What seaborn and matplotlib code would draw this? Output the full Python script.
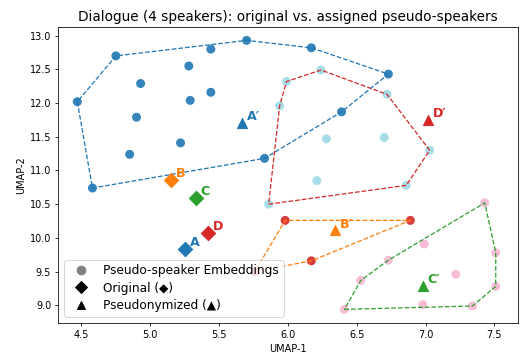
import numpy as np
import pandas as pd
import seaborn as sns
import matplotlib
import matplotlib.pyplot as plt
from matplotlib.lines import Line2D

# pseudo-speaker embeddings, one group per original speaker
a_x = [4.47, 4.75, 4.58, 4.93, 4.90, 4.85, 5.22, 5.28, 5.29, 5.44, 5.44, 5.70, 5.83, 6.17, 6.73, 6.39]
a_y = [12.02, 12.70, 10.74, 12.29, 11.79, 11.24, 11.41, 12.55, 12.04, 12.80, 12.16, 12.93, 11.18, 12.82, 12.43, 11.87]
b_x = [5.98, 6.89, 6.17, 5.76]
b_y = [10.26, 10.26, 9.66, 9.50]
c_x = [7.43, 6.99, 7.51, 6.73, 7.22, 6.53, 7.51, 6.98, 7.34, 6.41]
c_y = [10.52, 9.91, 9.78, 9.67, 9.46, 9.37, 9.28, 9.01, 8.99, 8.94]
d_x = [6.24, 5.99, 5.94, 6.72, 6.28, 6.70, 7.03, 6.21, 6.86, 5.86]
d_y = [12.49, 12.32, 11.96, 12.13, 11.47, 11.49, 11.30, 10.85, 10.78, 10.50]

speakers = ["A", "B", "C", "D"]
orig_x = [5.25, 5.15, 5.33, 5.42]
orig_y = [9.83, 10.86, 10.59, 10.07]
pseudo_x = [5.67, 6.34, 6.98, 7.02]
pseudo_y = [11.71, 10.11, 9.29, 11.75]

spk_colors = {"A": "#1f77b4", "B": "#ff7f0e", "C": "#2ca02c", "D": "#d62728"}
emb_colors = {"A": "#1f77b4", "B": "#d62728", "C": "#f7b6d2", "D": "#9edae5"}

groups = {"A": (a_x, a_y), "B": (b_x, b_y), "C": (c_x, c_y), "D": (d_x, d_y)}
rows = []
for s, (xs, ys) in groups.items():
    for x, y in zip(xs, ys):
        rows.append({"x": x, "y": y, "spk": s})
emb = pd.DataFrame(rows)


def hull(pts):
    # monotone chain convex hull
    pts = sorted(set(pts))
    def cross(o, a, b):
        return (a[0]-o[0])*(b[1]-o[1]) - (a[1]-o[1])*(b[0]-o[0])
    lower, upper = [], []
    for p in pts:
        while len(lower) >= 2 and cross(lower[-2], lower[-1], p) <= 0:
            lower.pop()
        lower.append(p)
    for p in reversed(pts):
        while len(upper) >= 2 and cross(upper[-2], upper[-1], p) <= 0:
            upper.pop()
        upper.append(p)
    return lower[:-1] + upper[:-1]


fig, ax = plt.subplots(figsize=(523/70, 354/70), dpi=70)

sns.scatterplot(data=emb, x="x", y="y", hue="spk", palette=emb_colors,
                s=85, alpha=0.9, linewidth=0, legend=False, ax=ax)

for s, (xs, ys) in groups.items():
    h = hull(list(zip(xs, ys)))
    h.append(h[0])
    hx, hy = zip(*h)
    ax.plot(hx, hy, "--", color=spk_colors[s], lw=1.3)

for i, s in enumerate(speakers):
    ax.scatter(orig_x[i], orig_y[i], marker="D", s=110, color=spk_colors[s], zorder=4)
    ax.annotate(s, (orig_x[i], orig_y[i]), xytext=(5, 3), textcoords="offset points",
                color=spk_colors[s], fontsize=13, fontweight="bold")
    ax.scatter(pseudo_x[i], pseudo_y[i], marker="^", s=110, color=spk_colors[s], zorder=4)
    ax.annotate(s + "\u2032", (pseudo_x[i], pseudo_y[i]), xytext=(5, 3), textcoords="offset points",
                color=spk_colors[s], fontsize=13, fontweight="bold")

handles = [
    Line2D([], [], marker="o", color="gray", linestyle="", markersize=9),
    Line2D([], [], marker="D", color="black", linestyle="", markersize=9),
    Line2D([], [], marker="^", color="black", linestyle="", markersize=9),
]
ax.legend(handles, ["Pseudo-speaker Embeddings", "Original (\u25c6)", "Pseudonymized (\u25b2)"],
          loc="lower left", fontsize=12.5, labelspacing=0.35)

ax.set_xlim(4.33, 7.67)
ax.set_ylim(8.74, 13.13)
ax.set_xlabel("UMAP-1")
ax.set_ylabel("UMAP-2")
ax.set_title("Dialogue (4 speakers): original vs. assigned pseudo-speakers", fontsize=14)

plt.subplots_adjust(left=0.111, right=0.990, top=0.924, bottom=0.088)
plt.savefig("out.png", dpi=70)
